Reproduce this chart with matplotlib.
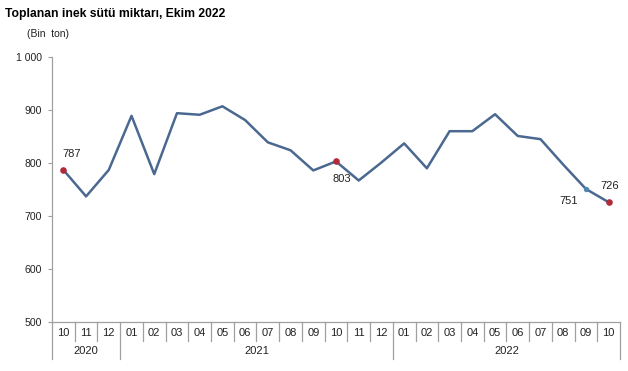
import matplotlib.pyplot as plt
import matplotlib.transforms as mtransforms
import numpy as np

plt.rcParams['font.family'] = ['Liberation Sans', 'DejaVu Sans']

months = ['10', '11', '12',
          '01', '02', '03', '04', '05', '06', '07', '08', '09', '10', '11', '12',
          '01', '02', '03', '04', '05', '06', '07', '08', '09', '10']
years = ['2020', '2021', '2022']
year_counts = [3, 12, 10]
values = [787, 737, 787,
          889, 779, 894, 891, 907, 881, 839, 824, 786, 803, 767, 801,
          837, 790, 860, 860, 892, 851, 845, 797, 751, 726]

# points that carry a value label: (index, dx, dy, ha, va)
labels = {0: (-1, 8, 'left', 'bottom'),
          12: (4, -9, 'center', 'top'),
          23: (-6, -5, 'right', 'top'),
          24: (1, 8, 'center', 'bottom')}
red_points = [0, 12, 24]

line_color = '#4a6890'
axis_color = '#a0a0a0'

fig = plt.figure(figsize=(6.28, 3.71), dpi=100)
ax = fig.add_axes([52 / 628, 1 - 322 / 371, 568 / 628, 265 / 371])

x = np.arange(len(values))
ax.plot(x, values, color=line_color, lw=1.8, zorder=3)
ax.scatter([x[i] for i in red_points], [values[i] for i in red_points],
           s=14, color='#b02a3a', zorder=4)
ax.scatter([x[23]], [values[23]], s=8, color='#4f86b0', zorder=4)

for i, (dx, dy, ha, va) in labels.items():
    ax.annotate(str(values[i]), (x[i], values[i]), xytext=(dx, dy),
                textcoords='offset points', ha=ha, va=va, fontsize=8,
                color='#222222')

ax.set_xlim(-0.5, len(values) - 0.5)
ax.set_ylim(500, 1000)
ax.set_yticks(range(500, 1001, 100))
ax.set_yticklabels([f'{v:,}'.replace(',', ' ') for v in range(500, 1001, 100)])
ax.tick_params(axis='y', direction='out', length=3, width=0.8,
               color=axis_color, labelsize=7.6, labelcolor='#222222', pad=4)
ax.set_xticks([])

for side in ['top', 'right']:
    ax.spines[side].set_visible(False)
for side in ['left', 'bottom']:
    ax.spines[side].set_color(axis_color)
    ax.spines[side].set_linewidth(0.9)

# two-level category axis
trans = mtransforms.blended_transform_factory(ax.transData, ax.transAxes)
month_y = -0.042
year_y = -0.11
for i, m in enumerate(months):
    ax.text(i, month_y, m, transform=trans, ha='center', va='center',
            fontsize=8, color='#222222')
boundaries = np.cumsum([0] + year_counts) - 0.5
for i in range(1, len(months)):
    b = i - 0.5
    low = -0.138 if b in boundaries else -0.072
    ax.plot([b, b], [0, low], transform=trans, color=axis_color, lw=0.9,
            clip_on=False)
for b in [boundaries[0], boundaries[-1]]:
    ax.plot([b, b], [0, -0.138], transform=trans, color=axis_color, lw=0.9,
            clip_on=False)
for j, yr in enumerate(years):
    mid = (boundaries[j] + boundaries[j + 1]) / 2
    ax.text(mid, year_y, yr, transform=trans, ha='center', va='center',
            fontsize=8, color='#222222')

fig.text(5 / 628, 1 - 14 / 371, 'Toplanan inek sütü miktarı, Ekim 2022',
         fontsize=8.7, fontweight='bold', va='center', ha='left')
fig.text(27 / 628, 1 - 34 / 371, '(Bin  ton)', fontsize=7.5, va='center',
         ha='left', color='#222222')

fig.savefig('out.png', dpi=100)
